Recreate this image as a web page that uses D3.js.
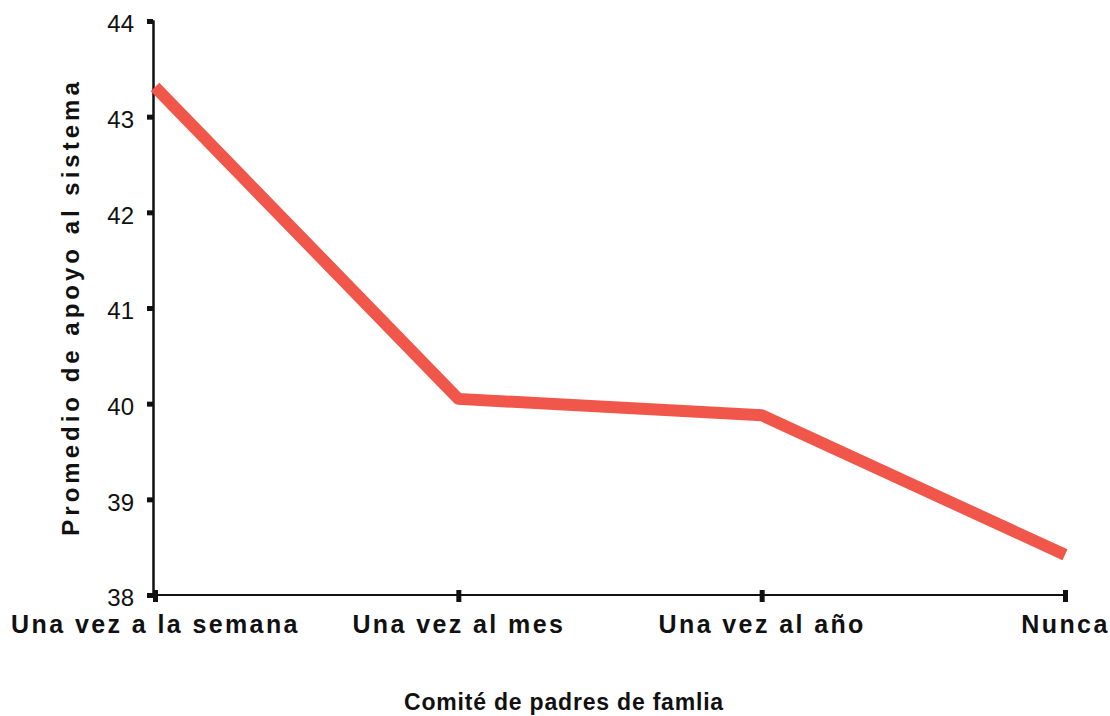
<!DOCTYPE html>
<html>
<head>
<meta charset="utf-8">
<script src="https://cdn.jsdelivr.net/npm/d3@7"></script>
<style>
  body { margin: 0; background: #fff; }
  svg { display: block; }
  text { font-family: "Liberation Sans", Arial, sans-serif; }
</style>
</head>
<body>
<svg id="svg" width="1110" height="716"></svg>
<script>
"use strict";
const categories = ['Una vez a la semana', 'Una vez al mes', 'Una vez al año', 'Nunca'];
const values = [43.31, 40.05, 39.88, 38.42];
const yTicks = [38, 39, 40, 41, 42, 43, 44];

function drawChart() {
    const svg = d3.select('#svg');
    const x = d3.scalePoint().domain(categories).range([155, 1065]);
    const y = d3.scaleLinear().domain([38, 44]).range([595, 21]);

    // y axis
    const yAxis = svg.append('g')
        .attr('transform', 'translate(153,0)')
        .call(d3.axisLeft(y).tickValues(yTicks).tickSize(6).tickPadding(13).tickFormat(d3.format('d')));
    yAxis.attr('font-family', null).attr('font-size', null);
    yAxis.select('.domain').attr('stroke', '#111').attr('stroke-width', 2.5);
    yAxis.selectAll('.tick line').attr('stroke', '#111').attr('stroke-width', 5);
    yAxis.selectAll('.tick text')
        .attr('font-size', 24)
        .attr('fill', '#111')
        .attr('dy', '0.45em');

    // x axis
    const xAxis = svg.append('g')
        .attr('transform', 'translate(0,595)')
        .call(d3.axisBottom(x).tickSize(7).tickPadding(13).tickSizeOuter(0));
    xAxis.attr('font-family', null).attr('font-size', null);
    xAxis.select('.domain').attr('stroke', '#111').attr('stroke-width', 2).attr('d', 'M152,0H1068');
    xAxis.selectAll('.tick line').attr('stroke', '#111').attr('stroke-width', 5).attr('y1', -5);
    xAxis.selectAll('.tick text')
        .attr('font-size', 25)
        .attr('font-weight', 'bold')
        .attr('letter-spacing', 2.4)
        .attr('fill', '#111')
        .attr('dy', '0.71em');

    // line
    const line = d3.line()
        .x((d, i) => x(categories[i]))
        .y(d => y(d));
    svg.append('path')
        .datum(values)
        .attr('d', line)
        .attr('fill', 'none')
        .attr('stroke', '#f0564a')
        .attr('stroke-width', 12)
        .attr('stroke-linejoin', 'round');

    // axis titles
    svg.append('text')
        .attr('transform', 'translate(79,307) rotate(-90)')
        .attr('text-anchor', 'middle')
        .attr('font-weight', 'bold')
        .attr('font-size', 24)
        .attr('letter-spacing', 4)
        .attr('fill', '#111')
        .text('Promedio de apoyo al sistema');

    svg.append('text')
        .attr('x', 564)
        .attr('y', 710)
        .attr('text-anchor', 'middle')
        .attr('font-weight', 'bold')
        .attr('font-size', 23)
        .attr('letter-spacing', 0.8)
        .attr('fill', '#111')
        .text('Comité de padres de famlia');
}
drawChart();
</script>
</body>
</html>
